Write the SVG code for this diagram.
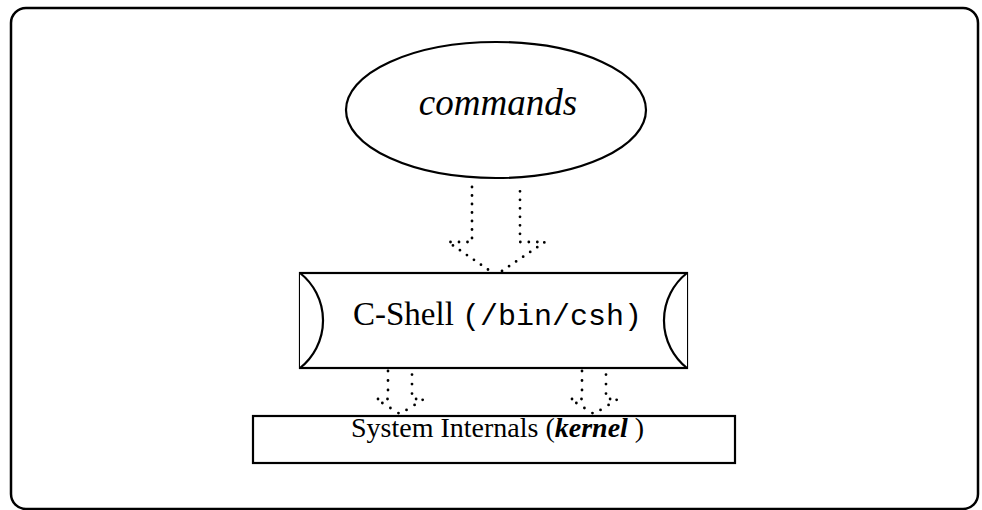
<svg xmlns="http://www.w3.org/2000/svg" width="982" height="510" viewBox="0 0 982 510">
  <style>
    .frame { fill: #fff; stroke: #000; stroke-width: 2.5; }
    .shape { fill: #fff; stroke: #000; stroke-width: 2.2; }
    .dots { fill: none; stroke: #000; stroke-width: 2.8; stroke-linecap: round; stroke-linejoin: round; }
    .serif { font-family: "Liberation Serif", "Times New Roman", serif; fill: #000; }
    .mono { font-family: "Liberation Mono", "Courier New", monospace; }
  </style>

  <rect class="frame" x="11" y="8" width="967" height="501" rx="15" ry="15"/>

  <g id="connectors">
    <!-- commands -> C-Shell -->
    <path class="dots" stroke-dasharray="0 8.5" d="M472,187 V242 H448 L496,275 L545,242 H520 V187"/>
    <!-- C-Shell -> kernel, left -->
    <path class="dots" stroke-dasharray="0 9.5" d="M388,371 V399 H376 L400,414 L424,399 H412 V371"/>
    <!-- C-Shell -> kernel, right -->
    <path class="dots" stroke-dasharray="0 9.5" d="M582,371 V399 H570 L594,414 L618,399 H606 V371"/>
  </g>

  <g id="commands">
    <ellipse class="shape" cx="496" cy="110" rx="150" ry="68"/>
    <text class="serif" x="498" y="115" font-size="37" font-style="italic" text-anchor="middle">commands</text>
  </g>

  <g id="cshell">
    <rect class="shape" x="300" y="273" width="387" height="95"/>
    <path class="shape" fill="none" d="M300,273 A60.5,60.5 0 0 1 300,368"/>
    <path class="shape" fill="none" d="M687,273 A60.5,60.5 0 0 0 687,368"/>
    <text class="serif" x="353" y="325" font-size="33">C-Shell <tspan class="mono" font-size="30">(/bin/csh)</tspan></text>
  </g>

  <g id="kernel">
    <rect class="shape" x="253" y="416" width="482" height="47"/>
    <text class="serif" x="351" y="437" font-size="28">System Internals (<tspan font-weight="bold" font-style="italic">kernel</tspan> )</text>
  </g>
</svg>
